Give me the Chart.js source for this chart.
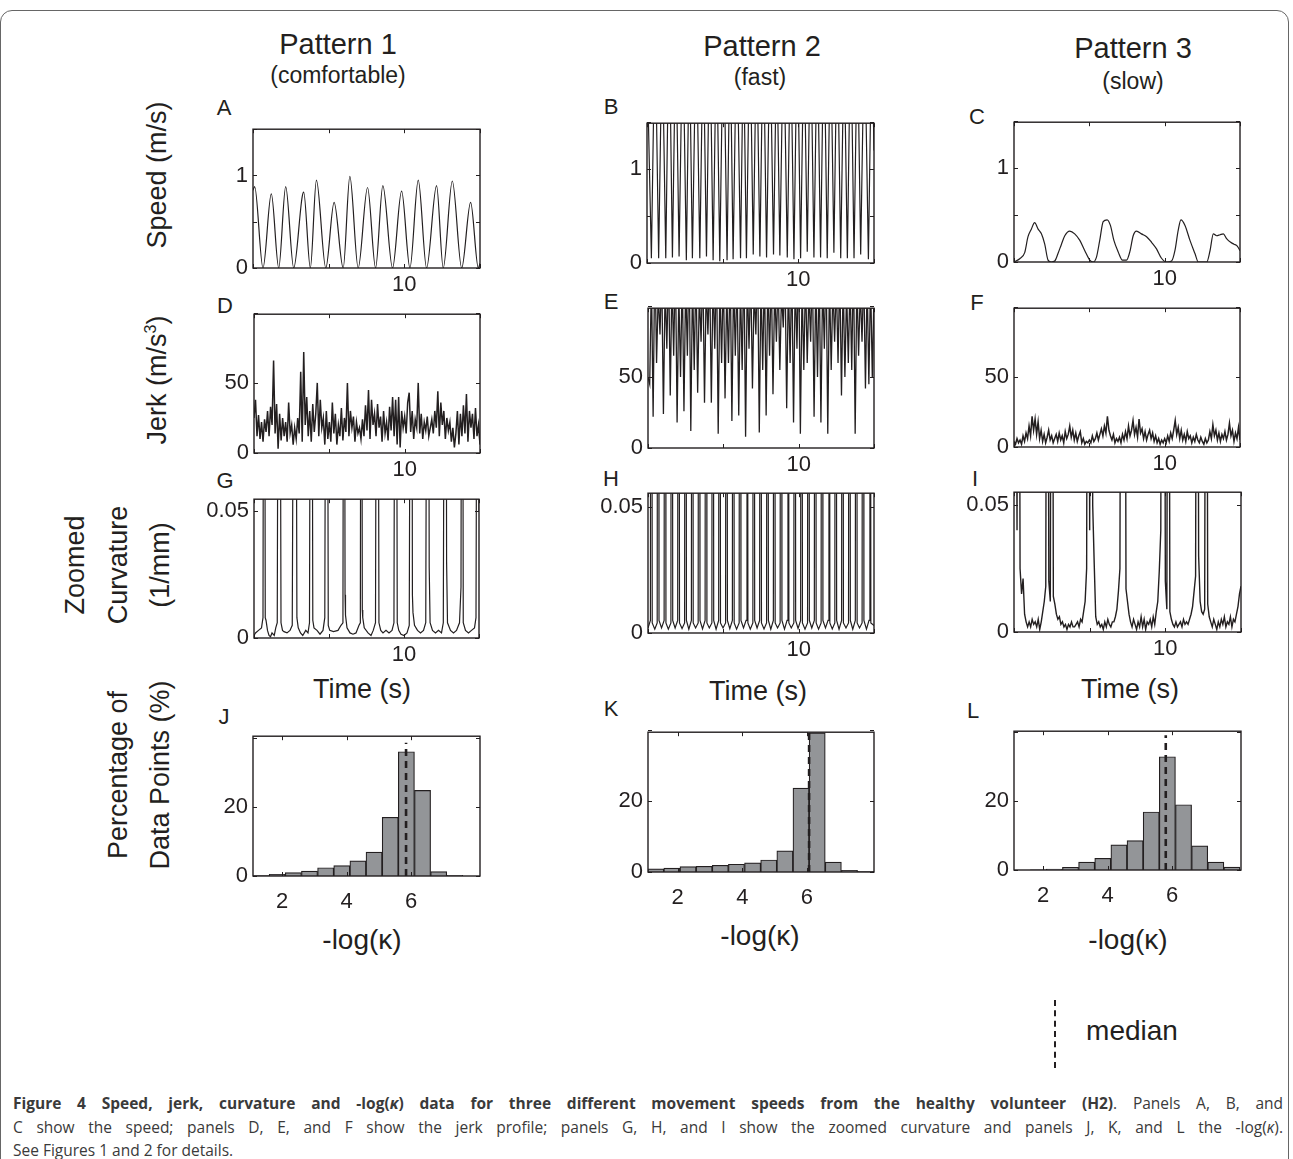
<!DOCTYPE html>
<html>
<head>
<meta charset="utf-8">
<script src="https://cdn.jsdelivr.net/npm/chart.js@4.4.0/dist/chart.umd.min.js"></script>
<style>
  body { margin: 0; background: #fff; }
  #fig { position: relative; width: 1293px; height: 1159px; overflow: hidden; background: #fff;
         font-family: "Liberation Sans", Arial, sans-serif; color: #231f20; }
  .lbl { position: absolute; white-space: nowrap; line-height: 1; transform: translate(-50%, -50%); }
  .rot { transform: translate(-50%, -50%) rotate(-90deg); text-align: center; }
  .frame { position: absolute; left: 0px; top: 10px; width: 1287px; height: 1180px;
           border: 1.5px solid #666; border-radius: 12px; }
  .cap { position: absolute; left: 13px; width: 1270px; font-family: "Open Sans", sans-serif;
         font-size: 15.5px; line-height: 23px; color: #3a3a3a; white-space: nowrap; }
  .just { text-align: justify; text-align-last: justify; white-space: normal; }
  .median-mark { position: absolute; left: 1054px; top: 1000px; height: 68px; border-left: 2.5px dashed #231f20; }
</style>
</head>
<body>
<div id="fig">
  <div class="frame"></div>

  <div class="lbl" style="left:338px;top:44px;font-size:29px">Pattern 1</div>
  <div class="lbl" style="left:338px;top:75px;font-size:23px">(comfortable)</div>
  <div class="lbl" style="left:762px;top:46px;font-size:29px">Pattern 2</div>
  <div class="lbl" style="left:760px;top:77px;font-size:23px">(fast)</div>
  <div class="lbl" style="left:1133px;top:48px;font-size:29px">Pattern 3</div>
  <div class="lbl" style="left:1133px;top:81px;font-size:23px">(slow)</div>

  <div class="lbl" style="left:224px;top:108px;font-size:22px">A</div>
  <div class="lbl" style="left:611px;top:107px;font-size:22px">B</div>
  <div class="lbl" style="left:977px;top:117px;font-size:22px">C</div>
  <div class="lbl" style="left:225px;top:306px;font-size:22px">D</div>
  <div class="lbl" style="left:611px;top:302px;font-size:22px">E</div>
  <div class="lbl" style="left:977px;top:303px;font-size:22px">F</div>
  <div class="lbl" style="left:225px;top:481px;font-size:22px">G</div>
  <div class="lbl" style="left:611px;top:479px;font-size:22px">H</div>
  <div class="lbl" style="left:975px;top:479px;font-size:22px">I</div>
  <div class="lbl" style="left:224px;top:717px;font-size:22px">J</div>
  <div class="lbl" style="left:611px;top:709px;font-size:22px">K</div>
  <div class="lbl" style="left:973px;top:711px;font-size:22px">L</div>

  <div class="lbl rot" style="left:157px;top:175px;font-size:27px">Speed (m/s)</div>
  <div class="lbl rot" style="left:157px;top:380px;font-size:27px">Jerk (m/s<sup style="font-size:16px">3</sup>)</div>
  <div class="lbl rot" style="left:75px;top:565px;font-size:27px">Zoomed</div>
  <div class="lbl rot" style="left:118px;top:565px;font-size:27px">Curvature</div>
  <div class="lbl rot" style="left:160px;top:565px;font-size:27px">(1/mm)</div>
  <div class="lbl rot" style="left:118px;top:775px;font-size:27px">Percentage of</div>
  <div class="lbl rot" style="left:160px;top:775px;font-size:27px">Data Points (%)</div>

  <div class="lbl" style="left:362px;top:689px;font-size:27px">Time (s)</div>
  <div class="lbl" style="left:758px;top:691px;font-size:27px">Time (s)</div>
  <div class="lbl" style="left:1130px;top:689px;font-size:27px">Time (s)</div>
  <div class="lbl" style="left:362px;top:940px;font-size:28px">-log(κ)</div>
  <div class="lbl" style="left:760px;top:936px;font-size:28px">-log(κ)</div>
  <div class="lbl" style="left:1128px;top:940px;font-size:28px">-log(κ)</div>

  <div class="median-mark"></div>
  <div class="lbl" style="left:1132px;top:1031px;font-size:28px">median</div>

  <div class="cap just" style="top:1092px"><b>Figure 4 Speed, jerk, curvature and -log(<i>κ</i>) data for three different movement speeds from the healthy volunteer (H2)</b>. Panels A, B, and</div>
  <div class="cap just" style="top:1116px">C show the speed; panels D, E, and F show the jerk profile; panels G, H, and I show the zoomed curvature and panels J, K, and L the -log(<i>κ</i>).</div>
  <div class="cap" style="top:1139px">See Figures 1 and 2 for details.</div>
</div>

<script>
// ---- data ----
// speed, pattern 1 (comfortable): peaks and troughs
const timeA = [0.00, 0.11, 0.66, 1.21, 1.70, 2.16, 2.69, 3.25, 3.35, 3.79, 4.19, 4.81, 5.36, 5.96, 6.40, 6.95, 7.57, 8.10, 8.58, 9.22, 9.82, 10.37, 10.92, 11.47, 12.13, 12.57, 13.17, 13.79, 14.38, 14.89, 15.00];
const speedA = [0.84, 0.88, 0.00, 0.80, 0.00, 0.88, 0.00, 0.77, 0.82, 0.00, 0.95, 0.00, 0.71, 0.00, 0.99, 0.00, 0.87, 0.00, 0.89, 0.00, 0.83, 0.00, 0.95, 0.00, 0.89, 0.00, 0.94, 0.00, 0.71, 0.00, 0.05];

// speed, pattern 2 (fast): peaks run off the top of the axes
const timeB = [0.00, 0.29, 0.53, 0.77, 1.00, 1.24, 1.46, 1.68, 1.90, 2.12, 2.36, 2.60, 2.80, 3.00, 3.25, 3.49, 3.71, 3.93, 4.15, 4.37, 4.59, 4.81, 5.05, 5.29, 5.49, 5.69, 5.93, 6.18, 6.37, 6.57, 6.80, 7.02, 7.24, 7.46, 7.68, 7.90, 8.13, 8.36, 8.57, 8.78, 9.02, 9.27, 9.49, 9.71, 9.93, 10.15, 10.37, 10.59, 10.81, 11.03, 11.25, 11.47, 11.69, 11.91, 12.13, 12.35, 12.57, 12.80, 13.02, 13.24, 13.46, 13.68, 13.90, 14.12, 14.37, 14.63, 14.85, 15.00];
const speedB = [2.2, 0.05, 2.6, 0.05, 2.5, 0.05, 2.7, 0.06, 2.5, 0.07, 2.6, 0.03, 2.4, 0.05, 2.6, 0.05, 2.5, 0.07, 2.6, 0.03, 2.5, 0.02, 2.7, 0.03, 2.5, 0.04, 2.6, 0.05, 2.4, 0.05, 2.6, 0.09, 2.5, 0.07, 2.6, 0.06, 2.5, 0.09, 2.4, 0.08, 2.6, 0.06, 2.5, 0.04, 2.6, 0.05, 2.5, 0.12, 2.6, 0.06, 2.5, 0.06, 2.6, 0.05, 2.5, 0.11, 2.6, 0.05, 2.4, 0.05, 2.6, 0.05, 2.5, 0.09, 2.6, 0.04, 2.5, 1.2];

// speed, pattern 3 (slow)
const timeC = [0.00, 0.38, 0.71, 0.93, 1.15, 1.37, 1.60, 1.82, 2.04, 2.26, 2.48, 2.70, 2.92, 3.15, 3.37, 3.70, 4.03, 4.37, 4.70, 5.03, 5.25, 5.47, 5.69, 5.92, 6.18, 6.40, 6.63, 6.91, 7.20, 7.47, 7.69, 7.91, 8.13, 8.46, 8.80, 9.13, 9.46, 9.79, 10.13, 10.46, 10.68, 10.90, 11.08, 11.35, 11.68, 12.01, 12.23, 12.79, 13.01, 13.23, 13.45, 13.67, 13.89, 14.11, 14.38, 14.60, 14.82, 15.00];
const speedC = [0.00, 0.035, 0.10, 0.27, 0.35, 0.42, 0.35, 0.30, 0.19, 0.02, 0.00, 0.01, 0.09, 0.19, 0.28, 0.33, 0.30, 0.23, 0.12, 0.02, 0.00, 0.05, 0.23, 0.43, 0.45, 0.39, 0.23, 0.11, 0.02, 0.02, 0.11, 0.28, 0.33, 0.30, 0.27, 0.21, 0.14, 0.04, 0.00, 0.01, 0.12, 0.34, 0.45, 0.39, 0.23, 0.09, 0.00, 0.00, 0.12, 0.30, 0.28, 0.29, 0.30, 0.25, 0.21, 0.19, 0.17, 0.12];

// jerk, sampled every 0.1 s
const jerkD = [25, 38, 12, 27, 10, 22, 8, 24, 15, 30,
  12, 33, 20, 66, 14, 35, 3, 28, 9, 25,
  12, 22, 8, 36, 14, 20, 6, 18, 10, 25,
  14, 58, 8, 72, 20, 40, 12, 30, 8, 35,
  15, 28, 50, 12, 38, 18, 25, 6, 30, 10,
  22, 8, 36, 14, 28, 6, 20, 12, 32, 9,
  25, 15, 50, 12, 30, 18, 26, 8, 22, 14,
  18, 10, 24, 12, 34, 16, 45, 10, 38, 20,
  28, 12, 35, 18, 26, 8, 30, 14, 22, 9,
  33, 16, 40, 12, 38, 6, 40, 4, 30, 18,
  26, 14, 36, 43, 15, 30, 10, 24, 18, 50,
  14, 28, 10, 22, 16, 26, 12, 18, 24, 14,
  30, 18, 44, 12, 36, 20, 30, 10, 25, 16,
  22, 8, 18, 4, 14, 30, 6, 28, 12, 34,
  14, 42, 8, 30, 18, 28, 10, 32, 12, 20, 6];
// jerk, fast pattern (evenly sampled, tops run off the axes)
const jerkE = [50, 45, 120, 22, 140, 60, 110, 80, 125, 24,
  115, 70, 130, 37, 120, 65, 135, 18, 110, 50,
  125, 26, 118, 65, 140, 12, 120, 55, 128, 39,
  110, 75, 130, 32, 115, 80, 125, 32, 120, 70,
  135, 10, 118, 60, 126, 35, 112, 60, 130, 19,
  120, 65, 124, 23, 116, 55, 138, 8, 120, 70,
  125, 42, 112, 80, 135, 11, 118, 55, 128, 23,
  120, 65, 126, 38, 114, 75, 120, 55, 110, 85,
  128, 28, 118, 60, 130, 18, 120, 70, 136, 10,
  115, 55, 122, 60, 112, 75, 130, 22, 120, 50,
  128, 18, 118, 70, 136, 10, 120, 55, 115, 75,
  118, 60, 126, 37, 120, 50, 112, 60, 118, 55,
  136, 10, 120, 65, 112, 75, 125, 42, 118, 45,
  120, 50, 110];
const jerkF = [4, 2, 6, 3, 5, 2, 8, 4, 10, 6,
  15, 8, 22, 12, 20, 9, 18, 6, 12, 4,
  9, 3, 7, 12, 5, 8, 3, 6, 9, 4,
  10, 5, 8, 3, 11, 6, 9, 15, 7, 12,
  5, 10, 4, 8, 11, 3, 6, 2, 4, 3,
  5, 3, 8, 4, 6, 10, 5, 9, 13, 8,
  15, 10, 22, 12, 8, 5, 9, 3, 6, 4,
  7, 3, 9, 5, 11, 6, 15, 8, 12, 19,
  9, 14, 7, 20, 10, 13, 6, 11, 5, 9,
  12, 6, 10, 4, 8, 3, 6, 2, 5, 3,
  6, 3, 8, 4, 10, 6, 12, 19, 9, 14,
  6, 12, 5, 9, 4, 11, 6, 8, 3, 7,
  4, 9, 5, 3, 7, 4, 2, 6, 3, 5,
  11, 6, 16, 8, 12, 5, 10, 4, 9, 6,
  11, 5, 9, 17, 8, 12, 4, 10, 6, 14, 5];

// zoomed curvature, pattern 1
const timeG = [0.00, 0.10, 0.30, 0.50, 0.60, 0.675, 0.75, 0.80, 0.90, 1.00, 1.10, 1.20, 1.35, 1.45, 1.55, 1.675, 1.80, 1.90, 2.00, 2.20, 2.40, 2.55, 2.74, 2.86, 2.95, 3.10, 3.25, 3.45, 3.60, 3.70, 3.815, 3.92, 4.00, 4.20, 4.40, 4.60, 4.72, 4.845, 4.95, 5.05, 5.30, 5.60, 5.80, 5.93, 6.00, 6.07, 6.10, 6.20, 6.40, 6.60, 6.80, 7.00, 7.09, 7.155, 7.22, 7.25, 7.35, 7.60, 7.80, 7.95, 8.10, 8.22, 8.33, 8.45, 8.60, 8.80, 9.00, 9.20, 9.33, 9.445, 9.55, 9.65, 9.80, 10.00, 10.20, 10.35, 10.495, 10.56, 10.60, 10.70, 10.90, 11.10, 11.30, 11.45, 11.595, 11.68, 11.74, 11.90, 12.10, 12.30, 12.50, 12.62, 12.765, 12.84, 12.90, 13.10, 13.30, 13.50, 13.70, 13.80, 13.875, 13.95, 14.10, 14.30, 14.50, 14.70, 14.80, 14.935, 15.00];
const curvG = [0.001, 0.002, 0.003, 0.004, 0.008, 0.3, 0.008, 0.007, 0.003, 0.001, 0.0005, 0.002, 0.001, 0.004, 0.006, 0.3, 0.006, 0.003, 0.0025, 0.002, 0.003, 0.005, 0.3, 0.008, 0.004, 0.002, 0.001, 0.003, 0.002, 0.006, 0.3, 0.007, 0.004, 0.003, 0.0015, 0.003, 0.008, 0.3, 0.005, 0.003, 0.0025, 0.003, 0.005, 0.006, 0.3, 0.017, 0.009, 0.004, 0.002, 0.0015, 0.002, 0.005, 0.006, 0.3, 0.011, 0.008, 0.004, 0.002, 0.001, 0.003, 0.006, 0.3, 0.006, 0.003, 0.002, 0.003, 0.002, 0.003, 0.006, 0.3, 0.006, 0.003, 0.0015, 0.001, 0.002, 0.005, 0.3, 0.017, 0.010, 0.005, 0.003, 0.002, 0.003, 0.006, 0.3, 0.028, 0.006, 0.003, 0.002, 0.003, 0.002, 0.006, 0.3, 0.03, 0.006, 0.003, 0.002, 0.003, 0.006, 0.02, 0.3, 0.006, 0.003, 0.002, 0.003, 0.004, 0.008, 0.3, 0.05];

// zoomed curvature, pattern 2
const timeH = [0.00, 0.16, 0.22, 0.28, 0.45, 0.61, 0.67, 0.73, 0.90, 1.07, 1.13, 1.19, 1.35, 1.52, 1.58, 1.64, 1.80, 1.97, 2.03, 2.09, 2.26, 2.43, 2.49, 2.55, 2.71, 2.88, 2.94, 3.00, 3.16, 3.33, 3.39, 3.45, 3.62, 3.79, 3.85, 3.91, 4.07, 4.24, 4.30, 4.36, 4.52, 4.69, 4.75, 4.81, 4.98, 5.15, 5.21, 5.27, 5.43, 5.60, 5.66, 5.72, 5.88, 6.05, 6.11, 6.17, 6.34, 6.51, 6.57, 6.63, 6.79, 6.96, 7.02, 7.08, 7.24, 7.41, 7.47, 7.53, 7.70, 7.87, 7.93, 7.99, 8.15, 8.32, 8.38, 8.44, 8.60, 8.77, 8.83, 8.89, 9.06, 9.23, 9.29, 9.35, 9.51, 9.68, 9.74, 9.80, 9.96, 10.13, 10.19, 10.25, 10.42, 10.59, 10.65, 10.71, 10.87, 11.04, 11.10, 11.16, 11.32, 11.49, 11.55, 11.61, 11.78, 11.95, 12.01, 12.07, 12.23, 12.40, 12.46, 12.52, 12.68, 12.85, 12.91, 12.97, 13.14, 13.31, 13.37, 13.43, 13.59, 13.76, 13.82, 13.88, 14.04, 14.21, 14.27, 14.33, 14.50, 14.67, 14.73, 14.79, 15.00];
const curvH = [0.002,
  0.005, 0.5, 0.004, 0.0015, 0.004, 0.5, 0.005, 0.002, 0.005, 0.5, 0.004, 0.0015, 0.004, 0.5, 0.005, 0.002,
  0.005, 0.5, 0.004, 0.0018, 0.004, 0.5, 0.005, 0.0015, 0.005, 0.5, 0.004, 0.002, 0.004, 0.5, 0.005, 0.0016,
  0.005, 0.5, 0.004, 0.002, 0.004, 0.5, 0.005, 0.0015, 0.005, 0.5, 0.004, 0.002, 0.004, 0.5, 0.005, 0.0017,
  0.005, 0.5, 0.004, 0.0015, 0.004, 0.5, 0.005, 0.002, 0.005, 0.5, 0.004, 0.0015, 0.004, 0.5, 0.005, 0.002,
  0.005, 0.5, 0.004, 0.0016, 0.004, 0.5, 0.005, 0.0015, 0.005, 0.5, 0.004, 0.002, 0.004, 0.5, 0.005, 0.0015,
  0.005, 0.5, 0.004, 0.002, 0.004, 0.5, 0.005, 0.0018, 0.005, 0.5, 0.004, 0.0015, 0.004, 0.5, 0.005, 0.002,
  0.005, 0.5, 0.004, 0.0015, 0.004, 0.5, 0.005, 0.002, 0.005, 0.5, 0.004, 0.0016, 0.004, 0.5, 0.005, 0.0015,
  0.005, 0.5, 0.004, 0.002, 0.004, 0.5, 0.005, 0.0015, 0.005, 0.5, 0.004, 0.002, 0.004, 0.5, 0.005, 0.0015,
  0.005, 0.5, 0.004, 0.003];

// zoomed curvature, pattern 3, sampled every 0.1 s
const curvI = [0.08, 0.2, 0.04, 0.3, 0.025, 0.015, 0.021, 0.007, 0.004, 0.002,
  0.004, 0.002, 0.005, 0.003, 0.004, 0.002, 0.005, 0.001, 0.004, 0.008,
  0.012, 0.018, 0.3, 0.02, 0.012, 0.3, 0.014, 0.011, 0.007, 0.005,
  0.006, 0.003, 0.004, 0.002, 0.003, 0.001, 0.003, 0.002, 0.004, 0.002,
  0.002, 0.003, 0.004, 0.002, 0.005, 0.004, 0.008, 0.012, 0.025, 0.3,
  0.04, 0.3, 0.05, 0.027, 0.006, 0.003, 0.004, 0.002, 0.003, 0.001,
  0.004, 0.002, 0.005, 0.003, 0.002, 0.004, 0.004, 0.006, 0.009, 0.016,
  0.025, 0.3, 0.09, 0.3, 0.017, 0.012, 0.007, 0.004, 0.002, 0.005,
  0.003, 0.001, 0.004, 0.002, 0.006, 0.002, 0.005, 0.001, 0.004, 0.003,
  0.005, 0.002, 0.006, 0.003, 0.008, 0.012, 0.024, 0.04, 0.3, 0.3,
  0.02, 0.009, 0.3, 0.008, 0.005, 0.003, 0.002, 0.004, 0.002, 0.003,
  0.004, 0.002, 0.005, 0.003, 0.004, 0.003, 0.005, 0.007, 0.01, 0.016,
  0.022, 0.3, 0.03, 0.012, 0.008, 0.007, 0.009, 0.3, 0.011, 0.006,
  0.004, 0.002, 0.005, 0.003, 0.001, 0.004, 0.002, 0.005, 0.003, 0.006,
  0.002, 0.004, 0.003, 0.006, 0.002, 0.005, 0.004, 0.007, 0.01, 0.015, 0.018];

// -log(kappa) histograms (% of data points per bin)
const binsJ = [1.35, 1.85, 2.35, 2.85, 3.35, 3.85, 4.35, 4.85, 5.35, 5.85, 6.35, 6.85, 7.35, 7.85];
const pctJ = [0.1, 0.5, 1.0, 1.4, 2.4, 3.0, 4.4, 6.9, 17.0, 36.0, 24.8, 1.3, 0.2, 0.0];
const medianJ = 5.84;
const binsK = [1.32, 1.82, 2.32, 2.82, 3.32, 3.82, 4.32, 4.82, 5.32, 5.82, 6.32, 6.82, 7.32, 7.82];
const pctK = [0.9, 1.1, 1.5, 1.6, 1.9, 2.2, 2.6, 3.4, 6.0, 23.7, 39.3, 2.8, 0.45, 0.2];
const medianK = 6.07;
const binsL = [1.35, 1.85, 2.35, 2.85, 3.35, 3.85, 4.35, 4.85, 5.35, 5.85, 6.35, 6.85, 7.35, 7.85];
const pctL = [0.0, 0.05, 0.3, 0.8, 2.3, 3.4, 7.3, 8.5, 16.8, 32.8, 18.9, 7.0, 2.3, 0.85];
const medianL = 5.80;

// tick values and which of them carry a label
const timeTicks = [0, 5, 10, 15], timeLabels = [10];
const speedTicks = [0, 0.5, 1, 1.5], speedLabels = [0, 1];
const jerkTicks = [0, 50, 100], jerkLabels = [0, 50];
const curvTicks = [0, 0.05], curvLabels = [0, 0.05];
const logTicks = [2, 4, 6], logLabels = [2, 4, 6];
const pctTicks = [0, 20, 40], pctLabels = [0, 20];

// ---- drawing ----
const INK = '#231f20';
const BAR = '#939598';
const FONT = { family: '"Liberation Sans", Arial, sans-serif', size: 22 };
const YW = 70, XH = 45, PT = 16, PR = 12;
const fig = document.getElementById('fig');

const xy = (xs, ys) => xs.map((x, i) => ({ x, y: ys[i] }));
const sampled = (ys, tEnd) => ys.map((y, i) => ({ x: i * tEnd / (ys.length - 1), y }));

// box around the plot area with short inward ticks, MATLAB style
const boxPlugin = {
  id: 'box',
  afterDatasetsDraw(chart) {
    const { ctx, chartArea: a, scales } = chart;
    ctx.save();
    ctx.strokeStyle = INK;
    ctx.lineWidth = 1;
    ctx.beginPath();
    scales.x.ticks.forEach(t => {
      const p = Math.round(scales.x.getPixelForValue(t.value)) + 0.5;
      ctx.moveTo(p, a.bottom); ctx.lineTo(p, a.bottom - 4);
      ctx.moveTo(p, a.top); ctx.lineTo(p, a.top + 4);
    });
    scales.y.ticks.forEach(t => {
      const p = Math.round(scales.y.getPixelForValue(t.value)) + 0.5;
      ctx.moveTo(a.left, p); ctx.lineTo(a.left + 4, p);
      ctx.moveTo(a.right, p); ctx.lineTo(a.right - 4, p);
    });
    ctx.stroke();
    ctx.lineWidth = 1.4;
    ctx.strokeRect(a.left, a.top, a.right - a.left, a.bottom - a.top);
    ctx.restore();
  }
};

function axis(min, max, ticks, labels, pad, fit) {
  return {
    type: 'linear', min, max, offset: false,
    grid: { display: false, drawTicks: false },
    border: { display: false },
    afterBuildTicks: s => { s.ticks = ticks.map(v => ({ value: v })); },
    afterFit: fit,
    ticks: {
      font: FONT, color: INK, padding: pad, autoSkip: false, maxRotation: 0,
      callback: v => labels.includes(v) ? String(v) : ''
    }
  };
}

function panel(rect, type, datasets, xs, ys) {
  const [L, T, R, B] = rect;
  const w = R - L + YW + PR, h = B - T + PT + XH;
  const c = document.createElement('canvas');
  c.width = w; c.height = h;
  c.style.cssText = `position:absolute;left:${L - YW}px;top:${T - PT}px;width:${w}px;height:${h}px`;
  fig.appendChild(c);
  new Chart(c, {
    type,
    data: { datasets },
    options: {
      responsive: false, animation: false, events: [],
      layout: { padding: { top: PT, right: PR, left: 0, bottom: 0 } },
      plugins: { legend: { display: false }, tooltip: { enabled: false } },
      scales: {
        x: axis(xs.min, xs.max, xs.ticks, xs.labels, xs.pad, s => { s.height = XH; }),
        y: axis(ys.min, ys.max, ys.ticks, ys.labels, 5, s => { s.width = YW; })
      }
    },
    plugins: [boxPlugin]
  });
}

function trace(data, smooth, width) {
  return {
    data, borderColor: INK, borderWidth: width || 1.2, pointRadius: 0, fill: false,
    tension: 0, cubicInterpolationMode: smooth ? 'monotone' : 'default'
  };
}

function histo(bins, pct, median, top) {
  return [
    { type: 'line', data: [{ x: median, y: 0 }, { x: median, y: top }], borderColor: INK,
      borderWidth: 2.6, borderDash: [7, 5], pointRadius: 0, order: 0 },
    { type: 'bar', data: xy(bins, pct), backgroundColor: BAR, borderColor: INK, borderWidth: 1.2,
      barPercentage: 1, categoryPercentage: 1, order: 1 }
  ];
}

const tAxis = { min: 0, max: 15, ticks: timeTicks, labels: timeLabels, pad: 4 };

panel([253, 127, 480, 268], 'line', [trace(xy(timeA, speedA), true)], tAxis,
  { min: 0, max: 1.5, ticks: speedTicks, labels: speedLabels });
panel([647, 121, 874, 263], 'line', [trace(xy(timeB, speedB), false)], tAxis,
  { min: 0, max: 1.49, ticks: speedTicks, labels: speedLabels });
panel([1014, 120, 1240, 262], 'line', [trace(xy(timeC, speedC), true)], tAxis,
  { min: 0, max: 1.49, ticks: speedTicks, labels: speedLabels });

panel([254, 312, 480, 453], 'line', [trace(sampled(jerkD, 15), false, 1.5)], tAxis,
  { min: 0, max: 99, ticks: jerkTicks, labels: jerkLabels });
panel([648, 306, 874, 448], 'line', [trace(sampled(jerkE, 15), false, 1.3)], tAxis,
  { min: 0, max: 98.6, ticks: jerkTicks, labels: jerkLabels });
panel([1014, 306, 1240, 447], 'line', [trace(sampled(jerkF, 15), false, 1.5)], tAxis,
  { min: 0, max: 99.3, ticks: jerkTicks, labels: jerkLabels });

panel([254, 497, 479, 638], 'line', [trace(xy(timeG, curvG), false)], tAxis,
  { min: 0, max: 0.0547, ticks: curvTicks, labels: curvLabels });
panel([648, 491, 874, 633], 'line', [trace(xy(timeH, curvH), false)], tAxis,
  { min: 0, max: 0.0555, ticks: curvTicks, labels: curvLabels });
panel([1014, 490, 1241, 632], 'line', [trace(sampled(curvI, 15), false, 1.4)], tAxis,
  { min: 0, max: 0.055, ticks: curvTicks, labels: curvLabels });

panel([253, 734, 480, 876], 'bar', histo(binsJ, pctJ, medianJ, 38.6),
  { min: 1.1, max: 8.13, ticks: logTicks, labels: logLabels, pad: 13 },
  { min: 0, max: 40.5, ticks: pctTicks, labels: pctLabels });
panel([648, 730, 874, 872], 'bar', histo(binsK, pctK, medianK, 39.5),
  { min: 1.08, max: 8.08, ticks: logTicks, labels: logLabels, pad: 13 },
  { min: 0, max: 39.5, ticks: pctTicks, labels: pctLabels });
panel([1014, 729, 1241, 870], 'bar', histo(binsL, pctL, medianL, 39),
  { min: 1.1, max: 8.13, ticks: logTicks, labels: logLabels, pad: 13 },
  { min: 0, max: 40.2, ticks: pctTicks, labels: pctLabels });
</script>
</body>
</html>
